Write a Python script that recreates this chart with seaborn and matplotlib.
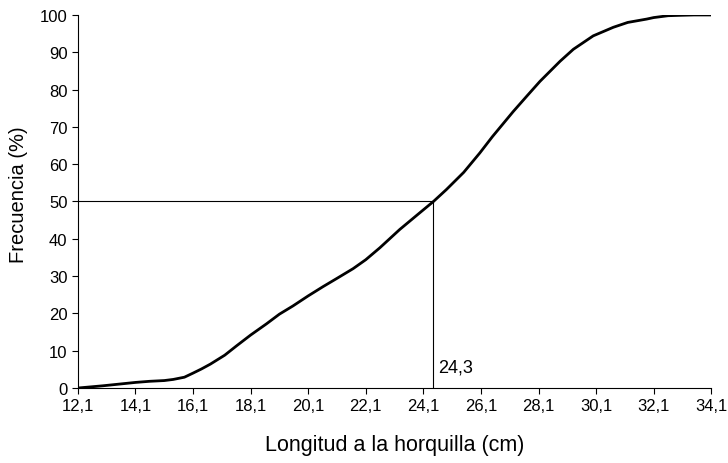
import pandas as pd
import matplotlib
matplotlib.use("Agg")
import matplotlib.pyplot as plt
import seaborn as sns

# cumulative frequency
longitud = [12.1, 12.97, 14.1, 14.59, 15.1, 15.41, 15.8, 16.1, 16.39, 16.7, 17.2, 17.61,
            18.1, 18.65, 19.1, 19.57, 20.1, 20.62, 21.1, 21.66, 22.1, 22.59, 23.28, 23.98,
            24.45, 24.9, 25.5, 26.06, 26.5, 27.22, 27.7, 28.15, 28.85, 29.31, 30.0, 30.7,
            31.2, 31.86, 32.1, 32.6, 33.01, 33.5, 34.1]
frecuencia = [0, 0.6, 1.5, 1.8, 2.0, 2.3, 2.9, 4.0, 5.1, 6.4, 8.8, 11.3,
              14.2, 17.2, 19.8, 22.0, 24.7, 27.2, 29.4, 32.0, 34.4, 37.6, 42.5, 47.0,
              50.0, 53.2, 57.8, 63.0, 67.4, 74.1, 78.3, 82.2, 87.6, 90.8, 94.4, 96.7,
              98.0, 98.9, 99.3, 99.8, 99.9, 100, 100]
mediana_x = 24.45
mediana_txt = "24,3"
xticks = [12.1, 14.1, 16.1, 18.1, 20.1, 22.1, 24.1, 26.1, 28.1, 30.1, 32.1, 34.1]
yticks = list(range(0, 101, 10))

df = pd.DataFrame({"Longitud": longitud, "Frecuencia": frecuencia})

sns.set_style("ticks")
plt.rcParams["font.family"] = ["Liberation Sans", "DejaVu Sans"]
plt.rcParams["text.color"] = "black"
plt.rcParams["axes.labelcolor"] = "black"
plt.rcParams["xtick.color"] = "black"
plt.rcParams["ytick.color"] = "black"

fig = plt.figure(figsize=(7.28, 4.64), dpi=100)
ax = fig.add_axes([0.107, 0.1616, 0.870, 0.804])

sns.lineplot(data=df, x="Longitud", y="Frecuencia", ax=ax, color="black",
             linewidth=2.0, solid_joinstyle="round", solid_capstyle="round")

# median guide lines
ax.plot([xticks[0], mediana_x], [50, 50], color="black", linewidth=0.8)
ax.plot([mediana_x, mediana_x], [0, 50], color="black", linewidth=0.8)
ax.text(mediana_x + 0.15, 4.5, mediana_txt, fontsize=13, ha="left", va="baseline")

ax.set_xlim(12.1, 34.1)
ax.set_ylim(0, 100)
ax.set_xticks(xticks)
ax.set_xticklabels([str(t).replace(".", ",") for t in xticks])
ax.set_yticks(yticks)
ax.tick_params(axis="both", labelsize=12, length=4, width=0.8, color="black")
for s in ["top", "right"]:
    ax.spines[s].set_visible(False)
for s in ["left", "bottom"]:
    ax.spines[s].set_linewidth(0.8)
    ax.spines[s].set_color("black")

ax.set_xlabel("Longitud a la horquilla (cm)", fontsize=15.5, labelpad=15)
ax.set_ylabel("Frecuencia (%)", fontsize=14.5)
ax.yaxis.set_label_coords(-0.078, 0.52)

plt.savefig("out.png", dpi=100)
